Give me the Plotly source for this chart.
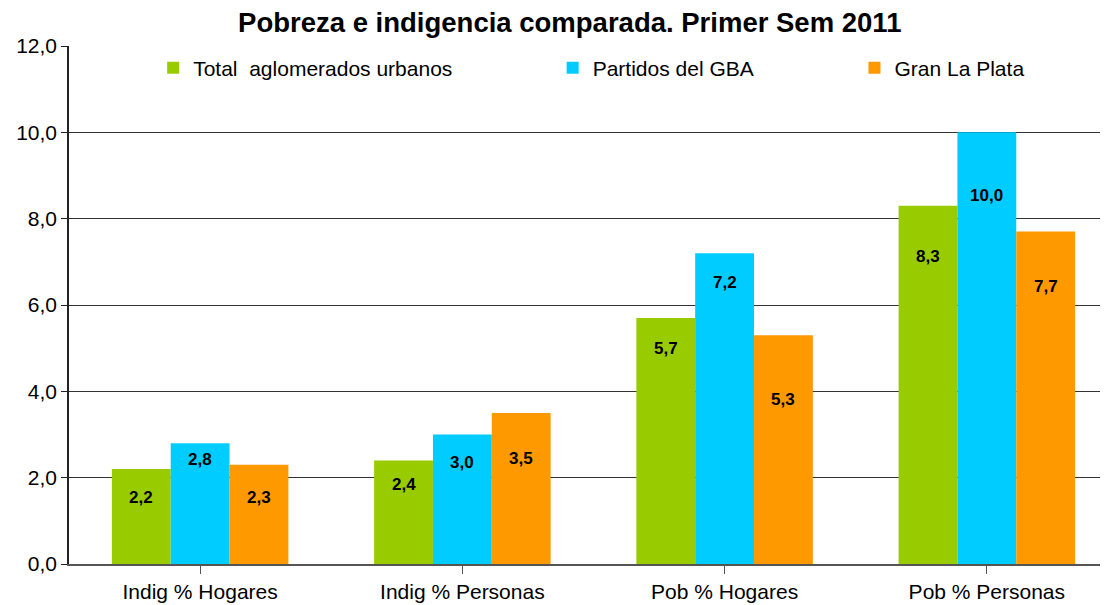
import plotly.graph_objects as go

categories = ["Indig % Hogares", "Indig % Personas", "Pob % Hogares", "Pob % Personas"]
series_names = ["Total  aglomerados urbanos", "Partidos del GBA", "Gran La Plata"]
total_aglom = [2.2, 2.4, 5.7, 8.3]
partidos_gba = [2.8, 3.0, 7.2, 10.0]
gran_la_plata = [2.3, 3.5, 5.3, 7.7]
y_ticks = [0, 2, 4, 6, 8, 10, 12]

# label placement (data units) as in the original chart
label_pos = [
    [1.53, 1.85, 5.0, 7.13],
    [2.41, 2.34, 6.53, 8.54],
    [1.53, 2.45, 3.80, 6.44],
]

colors = ["#99CC00", "#00CCFF", "#FF9900"]
series = [total_aglom, partidos_gba, gran_la_plata]
legend_ids = ["legend", "legend2", "legend3"]
legend_x = [0.081, 0.4655, 0.756]
bargap = 0.327
FONT = "Liberation Sans, Arial"

fig = go.Figure()
for name, vals, col, lid in zip(series_names, series, colors, legend_ids):
    fig.add_trace(go.Bar(
        x=list(range(len(categories))), y=vals, name=name,
        marker=dict(color=col, line=dict(width=0)),
        legend=lid,
    ))

w = (1 - bargap) / 3
for j, vals in enumerate(series):
    for i, v in enumerate(vals):
        fig.add_annotation(
            x=i + (j - 1) * w, y=label_pos[j][i], xref="x", yref="y",
            text=f"{v:.1f}".replace(".", ","), showarrow=False,
            font=dict(family=FONT, size=17, color="black", weight="bold"),
        )

legend_common = dict(
    orientation="h", yanchor="middle", xanchor="left", y=0.9575,
    bgcolor="rgba(0,0,0,0)", font=dict(family=FONT, size=21, color="black"),
    itemwidth=30,
)
layout_legends = {}
for lid, lx in zip(legend_ids, legend_x):
    layout_legends[lid] = dict(x=lx, **legend_common)

fig.update_layout(
    width=1108, height=605,
    margin=dict(l=58, r=8, t=38, b=49),
    paper_bgcolor="white", plot_bgcolor="white",
    separators=",.",
    barmode="group", bargap=bargap, bargroupgap=0,
    title=dict(text="<b>Pobreza e indigencia comparada. Primer Sem 2011</b>",
               x=0.507, xanchor="center", y=0.976, yanchor="middle",
               font=dict(family=FONT, size=27.5, color="black")),
    showlegend=True,
    **layout_legends,
)
fig.update_xaxes(
    range=[-0.5, 3.462], tickmode="array", tickvals=list(range(len(categories))),
    ticktext=categories, tickson="boundaries", ticks="outside", ticklen=8,
    tickcolor="#555", showline=True, linecolor="#555", linewidth=1.5,
    showgrid=False, tickfont=dict(family=FONT, size=21, color="black"),
    fixedrange=True,
)
fig.update_yaxes(
    range=[0, 12], tickvals=y_ticks, tickformat=".1f", ticks="outside", ticklen=6,
    tickcolor="#222", showline=True, linecolor="#222", linewidth=1.5,
    showgrid=True, gridcolor="#333333", gridwidth=1, zeroline=False,
    tickfont=dict(family=FONT, size=21, color="black"),
)

fig.write_html("out.html")
